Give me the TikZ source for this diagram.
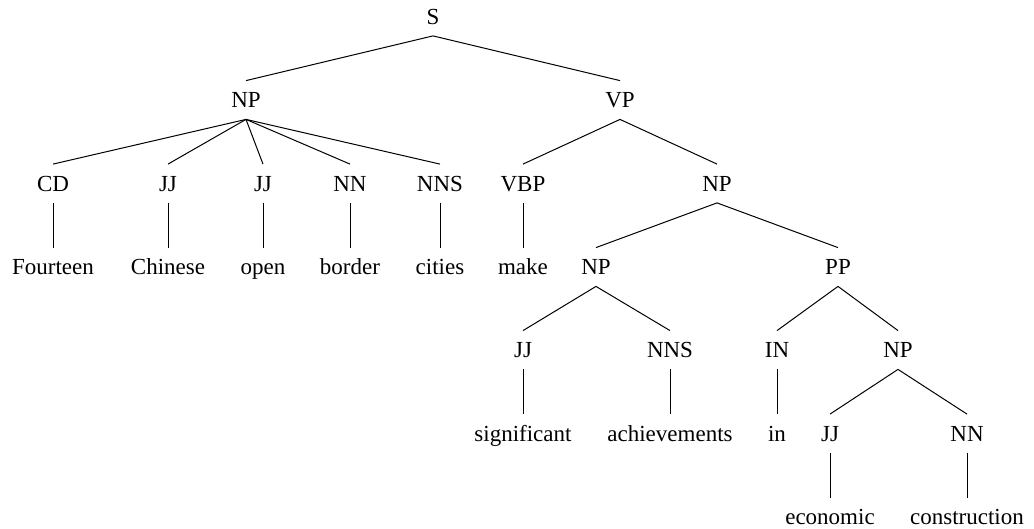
\documentclass[tikz,border=0pt]{standalone}
\usepackage{fontspec}
\setmainfont{Liberation Serif}
\tikzset{
  lab/.style={font=\fontsize{11.5}{13}\selectfont,text height=7.6pt,text depth=0pt,inner xsep=0pt,inner ysep=5.7pt},
  br/.style={line width=0.5pt}
}
\begin{document}
\begin{tikzpicture}[x=0.5pt,y=-0.5pt]
  \useasboundingbox (0,0) rectangle (1034,529);
  %%%%%%%%%%%%%The labels, row by row%%%%%%%%%%%%%%%%%%%%%%
  \node[lab] (s) at (433,16.5) {S};

  \node[lab] (np1) at (246,100) {NP};
  \node[lab] (vp) at (620,100) {VP};

  \node[lab] (cd) at (53,183.5) {CD};
  \node[lab] (jja) at (168,183.5) {JJ};
  \node[lab] (jjb) at (263,183.5) {JJ};
  \node[lab] (nna) at (350,183.5) {NN};
  \node[lab] (nnsa) at (440,183.5) {NNS};
  \node[lab] (vbp) at (523,183.5) {VBP};
  \node[lab] (np2) at (717,183.5) {NP};

  \node[lab] (fourteen) at (53,267) {Fourteen};
  \node[lab] (chinese) at (168,267) {Chinese};
  \node[lab] (open) at (263,267) {open};
  \node[lab] (border) at (350,267) {border};
  \node[lab] (cities) at (440,267) {cities};
  \node[lab] (make) at (523,267) {make};
  \node[lab] (np3) at (596,267) {NP};
  \node[lab] (pp) at (838,267) {PP};

  \node[lab] (jjc) at (523,350) {JJ};
  \node[lab] (nnsb) at (670,350) {NNS};
  \node[lab] (in) at (777,350) {IN};
  \node[lab] (np4) at (898,350) {NP};

  \node[lab] (significant) at (523,433.5) {significant};
  \node[lab] (achievements) at (670,433.5) {achievements};
  \node[lab] (win) at (777,433.5) {in};
  \node[lab] (jjd) at (830,433.5) {JJ};
  \node[lab] (nnb) at (967,433.5) {NN};

  \node[lab] (economic) at (830,517) {economic};
  \node[lab] (construction) at (967,517) {construction};

  %%%%%%%%%%%%%The branches%%%%%%%%%%%%%%%%%%%%%%
  \draw[br] (np1.north) -- (s.south) -- (vp.north);
  \foreach \c in {cd,jja,jjb,nna,nnsa}
    \draw[br] (np1.south) -- (\c.north);
  \draw[br] (vbp.north) -- (vp.south) -- (np2.north);
  \draw[br] (np3.north) -- (np2.south) -- (pp.north);
  \draw[br] (jjc.north) -- (np3.south) -- (nnsb.north);
  \draw[br] (in.north) -- (pp.south) -- (np4.north);
  \draw[br] (jjd.north) -- (np4.south) -- (nnb.north);

  \draw[br] (cd) -- (fourteen);
  \draw[br] (jja) -- (chinese);
  \draw[br] (jjb) -- (open);
  \draw[br] (nna) -- (border);
  \draw[br] (nnsa) -- (cities);
  \draw[br] (vbp) -- (make);
  \draw[br] (jjc) -- (significant);
  \draw[br] (nnsb) -- (achievements);
  \draw[br] (in) -- (win);
  \draw[br] (jjd) -- (economic);
  \draw[br] (nnb) -- (construction);
\end{tikzpicture}
\end{document}
